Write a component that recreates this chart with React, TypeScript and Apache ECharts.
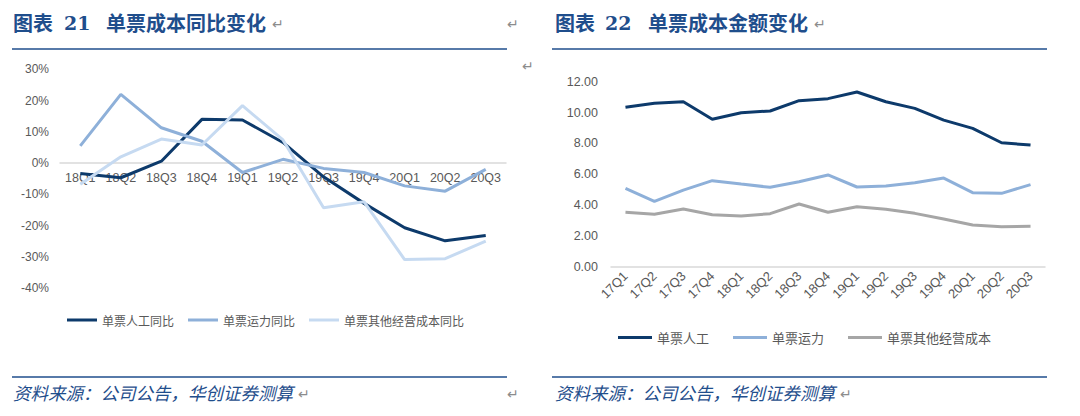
import React, { useEffect, useRef } from "react";
import * as echarts from "echarts";

const leftCategories = ["18Q1", "18Q2", "18Q3", "18Q4", "19Q1", "19Q2", "19Q3", "19Q4", "20Q1", "20Q2", "20Q3"];
const laborYoY = [-3.3, -4.7, 0.6, 14.0, 13.8, 6.6, -4.4, -12.9, -20.7, -24.9, -23.2];
const transportYoY = [5.5, 22.0, 11.3, 7.0, -3.0, 1.2, -1.7, -3.0, -7.3, -9.0, -2.0];
const otherYoY = [-6.8, 2.0, 7.7, 5.8, 18.4, 7.4, -14.3, -12.4, -30.9, -30.6, -25.0];

const rightCategories = ["17Q1", "17Q2", "17Q3", "17Q4", "18Q1", "18Q2", "18Q3", "18Q4", "19Q1", "19Q2", "19Q3", "19Q4", "20Q1", "20Q2", "20Q3"];
const laborCost = [10.34, 10.6, 10.7, 9.56, 9.99, 10.1, 10.77, 10.9, 11.33, 10.7, 10.27, 9.51, 8.97, 8.04, 7.89];
const transportCost = [5.08, 4.24, 4.97, 5.58, 5.36, 5.15, 5.51, 5.95, 5.17, 5.23, 5.45, 5.75, 4.8, 4.76, 5.32];
const otherCost = [3.53, 3.4, 3.74, 3.37, 3.29, 3.44, 4.07, 3.53, 3.89, 3.72, 3.46, 3.09, 2.7, 2.59, 2.62];

const leftNames = ["单票人工同比", "单票运力同比", "单票其他经营成本同比"];
const rightNames = ["单票人工", "单票运力", "单票其他经营成本"];

const LEFT_MIN = -40;
const LEFT_MAX = 30;

const DARK = "#0d3a6b";
const MID = "#8eb0d9";
const LIGHT = "#c6daf1";
const GRAY = "#a6a6a6";
const TITLE_BLUE = "#1f4e8c";
const CJK = "'Noto Sans CJK SC', 'Liberation Sans', sans-serif";
const LAT = "'Liberation Sans', Arial, sans-serif";
const SERIF = "'DejaVu Serif', 'Liberation Serif', serif";

export default function App() {
  const ref = useRef<HTMLDivElement>(null);
  useEffect(() => {
    if (!ref.current) return;
    const chart = echarts.init(ref.current, undefined, { renderer: "svg" });
    const axisLabel = { color: "#595959", fontSize: 12, fontFamily: LAT };
    const line = (name: string, data: number[], color: string, xi: number) => ({
      type: "line",
      name,
      data,
      xAxisIndex: xi,
      yAxisIndex: xi,
      symbol: "none",
      lineStyle: { color, width: 3 },
      itemStyle: { color },
    });
    const txt = (x: number, y: number, text: string, font: string, fill = TITLE_BLUE) => ({
      type: "text",
      left: x,
      top: y,
      style: { text, fill, font },
    });
    const titleFont = `bold 20px ${CJK}`;
    const numFont = `bold 19px ${SERIF}`;
    const hline = (x1: number, x2: number, y: number) => ({
      type: "line",
      shape: { x1, y1: y, x2, y2: y },
      style: { stroke: TITLE_BLUE, lineWidth: 1.5 },
    });
    const retFont = `14px ${CJK}`;
    const ret = (x: number, y: number) => txt(x, y, "↵", retFont, "#8c8c8c");
    const srcFont = `italic 17.5px ${CJK}`;
    const gridH = 218.6;
    const zeroOffset = -((0 - LEFT_MIN) / (LEFT_MAX - LEFT_MIN)) * gridH;
    chart.setOption({
      animation: false,
      graphic: [
        txt(13, 12, "图表", titleFont),
        txt(64, 13, "21", numFont),
        txt(106, 12, "单票成本同比变化", titleFont),
        txt(555, 12, "图表", titleFont),
        txt(605, 13, "22", numFont),
        txt(648, 12, "单票成本金额变化", titleFont),
        ret(272, 16),
        ret(507, 16),
        ret(814, 16),
        ret(522, 58),
        hline(12, 507, 49),
        hline(552, 1047, 49),
        hline(12, 507, 377),
        hline(552, 1047, 377),
        txt(13, 384, "资料来源：公司公告，华创证券测算", srcFont),
        txt(555, 384, "资料来源：公司公告，华创证券测算", srcFont),
        ret(298, 386),
        ret(507, 386),
        ret(840, 386),
      ],
      legend: [
        {
          data: leftNames,
          left: 62,
          top: 309,
          itemWidth: 30,
          itemHeight: 3,
          itemGap: 14,
          icon: "rect",
          textStyle: { color: "#595959", fontSize: 12, fontFamily: CJK },
        },
        {
          data: rightNames,
          left: 613,
          top: 326,
          itemWidth: 34,
          itemHeight: 3,
          itemGap: 24,
          icon: "rect",
          textStyle: { color: "#595959", fontSize: 13, fontFamily: CJK },
        },
      ],
      grid: [
        { left: 60, width: 446, top: 69.4, height: gridH },
        { left: 611, width: 434, top: 81.7, height: 185 },
      ],
      xAxis: [
        {
          type: "category",
          gridIndex: 0,
          data: leftCategories,
          boundaryGap: true,
          position: "bottom",
          offset: zeroOffset,
          axisLine: { onZero: false, lineStyle: { color: "#d9d9d9", width: 1.5 } },
          axisTick: { show: false },
          axisLabel: { ...axisLabel, fontSize: 12.5, margin: 8 },
        },
        {
          type: "category",
          gridIndex: 1,
          data: rightCategories,
          boundaryGap: true,
          axisLine: { lineStyle: { color: "#d9d9d9", width: 1.5 } },
          axisTick: { show: false },
          axisLabel: { ...axisLabel, fontSize: 13, rotate: 45, margin: 7 },
        },
      ],
      yAxis: [
        {
          type: "value",
          gridIndex: 0,
          min: LEFT_MIN,
          max: LEFT_MAX,
          interval: 10,
          axisLine: { show: false },
          axisTick: { show: false },
          splitLine: { show: false },
          axisLabel: { ...axisLabel, margin: 11, formatter: "{value}%" },
        },
        {
          type: "value",
          gridIndex: 1,
          min: 0,
          max: 12,
          interval: 2,
          axisLine: { show: false },
          axisTick: { show: false },
          splitLine: { show: false },
          axisLabel: { ...axisLabel, fontSize: 12.5, margin: 13, formatter: (v: number) => v.toFixed(2) },
        },
      ],
      series: [
        line(leftNames[0], laborYoY, DARK, 0),
        line(leftNames[1], transportYoY, MID, 0),
        line(leftNames[2], otherYoY, LIGHT, 0),
        line(rightNames[0], laborCost, DARK, 1),
        line(rightNames[1], transportCost, MID, 1),
        line(rightNames[2], otherCost, GRAY, 1),
      ],
    });
    return () => chart.dispose();
  }, []);
  return (
    <div
      ref={ref}
      style={{ position: "fixed", left: 0, top: 0, width: 1080, height: 416, background: "#fff" }}
    />
  );
}
